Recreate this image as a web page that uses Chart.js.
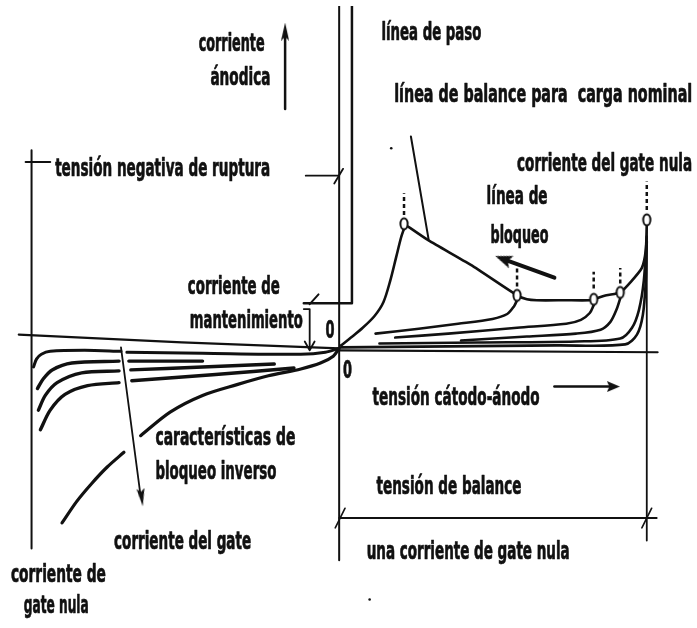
<!DOCTYPE html>
<html><head><meta charset="utf-8">
<script src="https://cdn.jsdelivr.net/npm/chart.js@4.4.1/dist/chart.umd.min.js"></script>
<style>html,body{margin:0;padding:0;background:#fff}canvas{display:block}</style>
</head><body>
<canvas id="c" width="697" height="628"></canvas>
<script>
// ---- data (x: cathode-anode voltage units, y: anode current units; origin at 0,0) ----
// reverse blocking characteristics (third quadrant); null = pen lift
const revLeakTop  = [[-326,14],[-160,6],[0,0]];
const revGate1    = [[-311,-19],[-308,-11],[-303,-6],[-294,-3],[-259,-2],[-222,-3],null,[-216,-4],[-139,-5],[-39,-6],[-14,-4],[0,0]];
const revGate2    = [[-307,-41],[-301,-31],[-292,-22],[-272,-15],[-224,-13],null,[-214,-13],[-139,-13]];
const revGate3    = [[-306,-63],[-299,-48],[-287,-35],[-262,-25],[-224,-23],null,[-212,-22],[-139,-19],[-66,-16]];
const revGate4    = [[-304,-83],[-294,-63],[-279,-47],[-256,-38],[-224,-35],null,[-211,-33],[-129,-27],[-46,-20]];
const revGateZero = [[-282,-178],[-267,-156],[-252,-138],[-236,-121],[-219,-106],null,[-202,-89],[-172,-65],[-139,-48],[-104,-37],[-72,-28],[-39,-21],[-19,-15],[-6,-8],[0,0]];
// forward blocking characteristics (first quadrant)
const fwdGate1    = [[2,3],[12,11],[24,21],[36,33],[45,47],[52,69],[58,93],[63,113],[66,122]];
const fwdGate2    = [[37,15],[81,20],[121,25],[156,30],[171,35],[178,43],[181,49]];
const fwdGate3    = [[57,11],[111,15],[181,21],[231,25],[246,29],[255,36],[259,44]];
const fwdGate4    = [[124,8],[191,12],[241,15],[266,19],[276,27],[282,39],[286,51]];
const fwdGate5    = [[41,5],[141,6],[241,7],[286,10],[298,21],[305,39],[310,69],[313,114]];
const fwdGateZero = [[2,1],[111,2],[221,3],[291,4],[303,14],[309,34],[312,69],[313,109]];
// load line and break-over points
const loadLine    = [[66,127],[91,110],[134,85],[181,54],[191,50],[201,49],[230,49],[255,49],[259,50],[272,54],[286,57],[297,68],[308,82],[312,100],[313,125]];
const breakoverX  = [66,181,259,286,313];
const breakoverY  = [127,54,50,57,131];
const markTopY    = [158,82,78,82,170];
const markBotY    = [136,63,61,66,141];
// reference / dimension lines
const anodeAxis     = [[0,349],[0,-216]];
const cathodeAxis   = [[0,-2],[324,-4]];
const latchLine     = [[13,349],[13,46],[-36,46]];
const latchTick     = [[-21,55],[-30,45]];
const holdBracket   = [[-36,40],[-30,40],[-30,-1]];
const holdArrow     = [[-35,7],[-30,-2],[-25,7]];
const ruptureLeft   = [[-313,202],[-313,-204]];
const ruptureTick   = [[-319,190],[-294,190]];
const ruptureRight  = [[-34,176],[0,176]];
const ruptureSlash  = [[-5,168],[4,183]];
const balanceDim    = [[0,-173],[323,-173]];
const balanceTickL  = [[-4,-183],[6,-163]];
const balanceTickR  = [[308,-183],[318,-163]];
const balanceRight  = [[313,124],[313,-196]];
const balancePointer= [[73,216],[91,111]];
const anodeArrow    = [[-55,244],[-55,323]];
const cathodeArrow  = [[219,-39],[279,-39]];
const reverseArrow  = [[-222,1],[-202,-151]];
const blockArrow    = [[219,72],[167,91]];
const specks        = [[53,204],[31,-256]];

// ---- text labels (text, left x, middle y, width) ----
const labels = [
  ['corriente', -143, 309, 66],
  ['ánodica', -131, 275, 60],
  ['línea de paso', 43, 321, 100],
  ['línea de balance para  carga nominal', 56, 257, 298],
  ['tensión negativa de ruptura', -289, 182, 215],
  ['corriente del gate nula', 181, 187, 175],
  ['línea de', 150, 153, 61],
  ['bloqueo', 154, 114, 58],
  ['corriente de', -154, 62, 92],
  ['mantenimiento', -152, 27, 113],
  ['0', -14, 17, 9],
  ['0', 4, -24, 9],
  ['tensión cátodo-ánodo', 34, -51, 167],
  ['características de', -187, -92, 140],
  ['bloqueo inverso', -187, -127, 121],
  ['tensión de balance', 38, -142, 145],
  ['corriente del gate', -229, -198, 137],
  ['una corriente de gate nula', 28, -208, 203],
  ['corriente de', -334, -232, 95],
  ['gate nula', -321, -263, 65]
];

const INK = '#111';
const toPts = a => a.map(p => p ? {x:p[0], y:p[1]} : {x:null, y:null});

function makeEllipse(){
  const c = document.createElement('canvas'); c.width = 12; c.height = 16;
  const g = c.getContext('2d');
  g.beginPath(); g.ellipse(6,8,3.6,5.6,0,0,Math.PI*2);
  g.fillStyle='#fff'; g.fill(); g.lineWidth=2; g.strokeStyle=INK; g.stroke();
  return c;
}
function makeHead(w,h){
  const c = document.createElement('canvas'); c.width = w; c.height = h;
  const g = c.getContext('2d');
  g.beginPath(); g.moveTo(w/2,0); g.lineTo(w,h); g.lineTo(w/2,h*0.8); g.lineTo(0,h); g.closePath();
  g.fillStyle=INK; g.fill();
  return c;
}

function line(points, width, tension, extra){
  return Object.assign({
    data: toPts(points), showLine: true, borderColor: INK, borderWidth: width,
    pointRadius: 0, tension: tension, spanGaps: false, fill: false,
    borderCapStyle: 'round', borderJoinStyle: 'round'
  }, extra || {});
}
function head(tip, rot, w, h){
  return {data: toPts([tip]), showLine:false, pointStyle: makeHead(w,h), pointRotation: rot,
          pointRadius: 6, borderWidth:0, order:-1};
}

const datasets = [
  line(revLeakTop, 2.2, 0),
  line(revGate1, 3, 0.3),
  line(revGate2, 3.4, 0.3),
  line(revGate3, 3.4, 0.3),
  line(revGate4, 3.4, 0.3),
  line(revGateZero, 3.2, 0.3),
  line(fwdGate1, 2.6, 0.3),
  line(fwdGate2, 2.6, 0.3),
  line(fwdGate3, 2.6, 0.3),
  line(fwdGate4, 2.6, 0.3),
  line(fwdGate5, 2.6, 0.3),
  line(fwdGateZero, 2.6, 0.3),
  line(loadLine, 2.6, 0.2),
  line(anodeAxis, 2, 0),
  line(cathodeAxis, 2.2, 0),
  line(latchLine, 2.5, 0),
  line(latchTick, 2, 0),
  line(holdBracket, 1.8, 0),
  line(holdArrow, 1.8, 0),
  line(ruptureLeft, 2, 0),
  line(ruptureTick, 2, 0),
  line(ruptureRight, 1.8, 0),
  line(ruptureSlash, 1.8, 0),
  line(balanceDim, 2, 0),
  line(balanceTickL, 1.6, 0),
  line(balanceTickR, 1.6, 0),
  line(balanceRight, 1.8, 0),
  line(balancePointer, 2, 0),
  line(anodeArrow, 2.5, 0),
  line(cathodeArrow, 2.5, 0),
  line(reverseArrow, 1.8, 0),
  line(blockArrow, 4, 0),
  {data: toPts(specks), showLine:false, pointRadius:1.3, backgroundColor:INK, borderWidth:0}
];
breakoverX.forEach((x,i) => {
  datasets.push(line([[x,markBotY[i]],[x,markTopY[i]]], 2.5, 0, {borderDash:[4,3], borderCapStyle:'butt'}));
});
datasets.push({data: breakoverX.map((x,i)=>({x:x, y:breakoverY[i]})), showLine:false,
  pointStyle: makeEllipse(), pointRadius: 6, borderWidth:0, order:-2});
datasets.push(head([-55,323], 0, 8, 18));
datasets.push(head([279,-39], 90, 11, 13));
datasets.push(head([-201,-152], 172.6, 8, 18));
datasets.push(head([167,91], -69.2, 13, 17));

const FONT = '"Liberation Sans Narrow","DejaVu Sans Condensed",sans-serif';
const textPlugin = {
  id: 'texts',
  afterDraw(chart){
    const ctx = chart.ctx, sx = chart.scales.x, sy = chart.scales.y;
    ctx.save();
    ctx.fillStyle = INK;
    ctx.strokeStyle = INK;
    ctx.lineWidth = 0.7;
    ctx.lineJoin = 'round';
    ctx.textBaseline = 'middle';
    ctx.font = 'bold 24px ' + FONT;
    labels.forEach(([t,x,y,w]) => {
      const px = sx.getPixelForValue(x), py = sy.getPixelForValue(y);
      const m = ctx.measureText(t).width;
      ctx.save(); ctx.translate(px, py); ctx.scale(w/m, 1);
      ctx.fillText(t, 0, 0); ctx.strokeText(t, 0, 0);
      ctx.restore();
    });
    ctx.restore();
  }
};

new Chart(document.getElementById('c'), {
  type: 'scatter',
  data: {datasets},
  options: {
    responsive: false, animation: false, devicePixelRatio: 1,
    layout: {padding: 0},
    plugins: {legend: {display:false}, tooltip: {enabled:false}},
    events: [],
    scales: {
      x: {type:'linear', min:-339, max:358, display:false},
      y: {type:'linear', min:-279, max:349, display:false}
    }
  },
  plugins: [textPlugin]
});
</script>
</body></html>
